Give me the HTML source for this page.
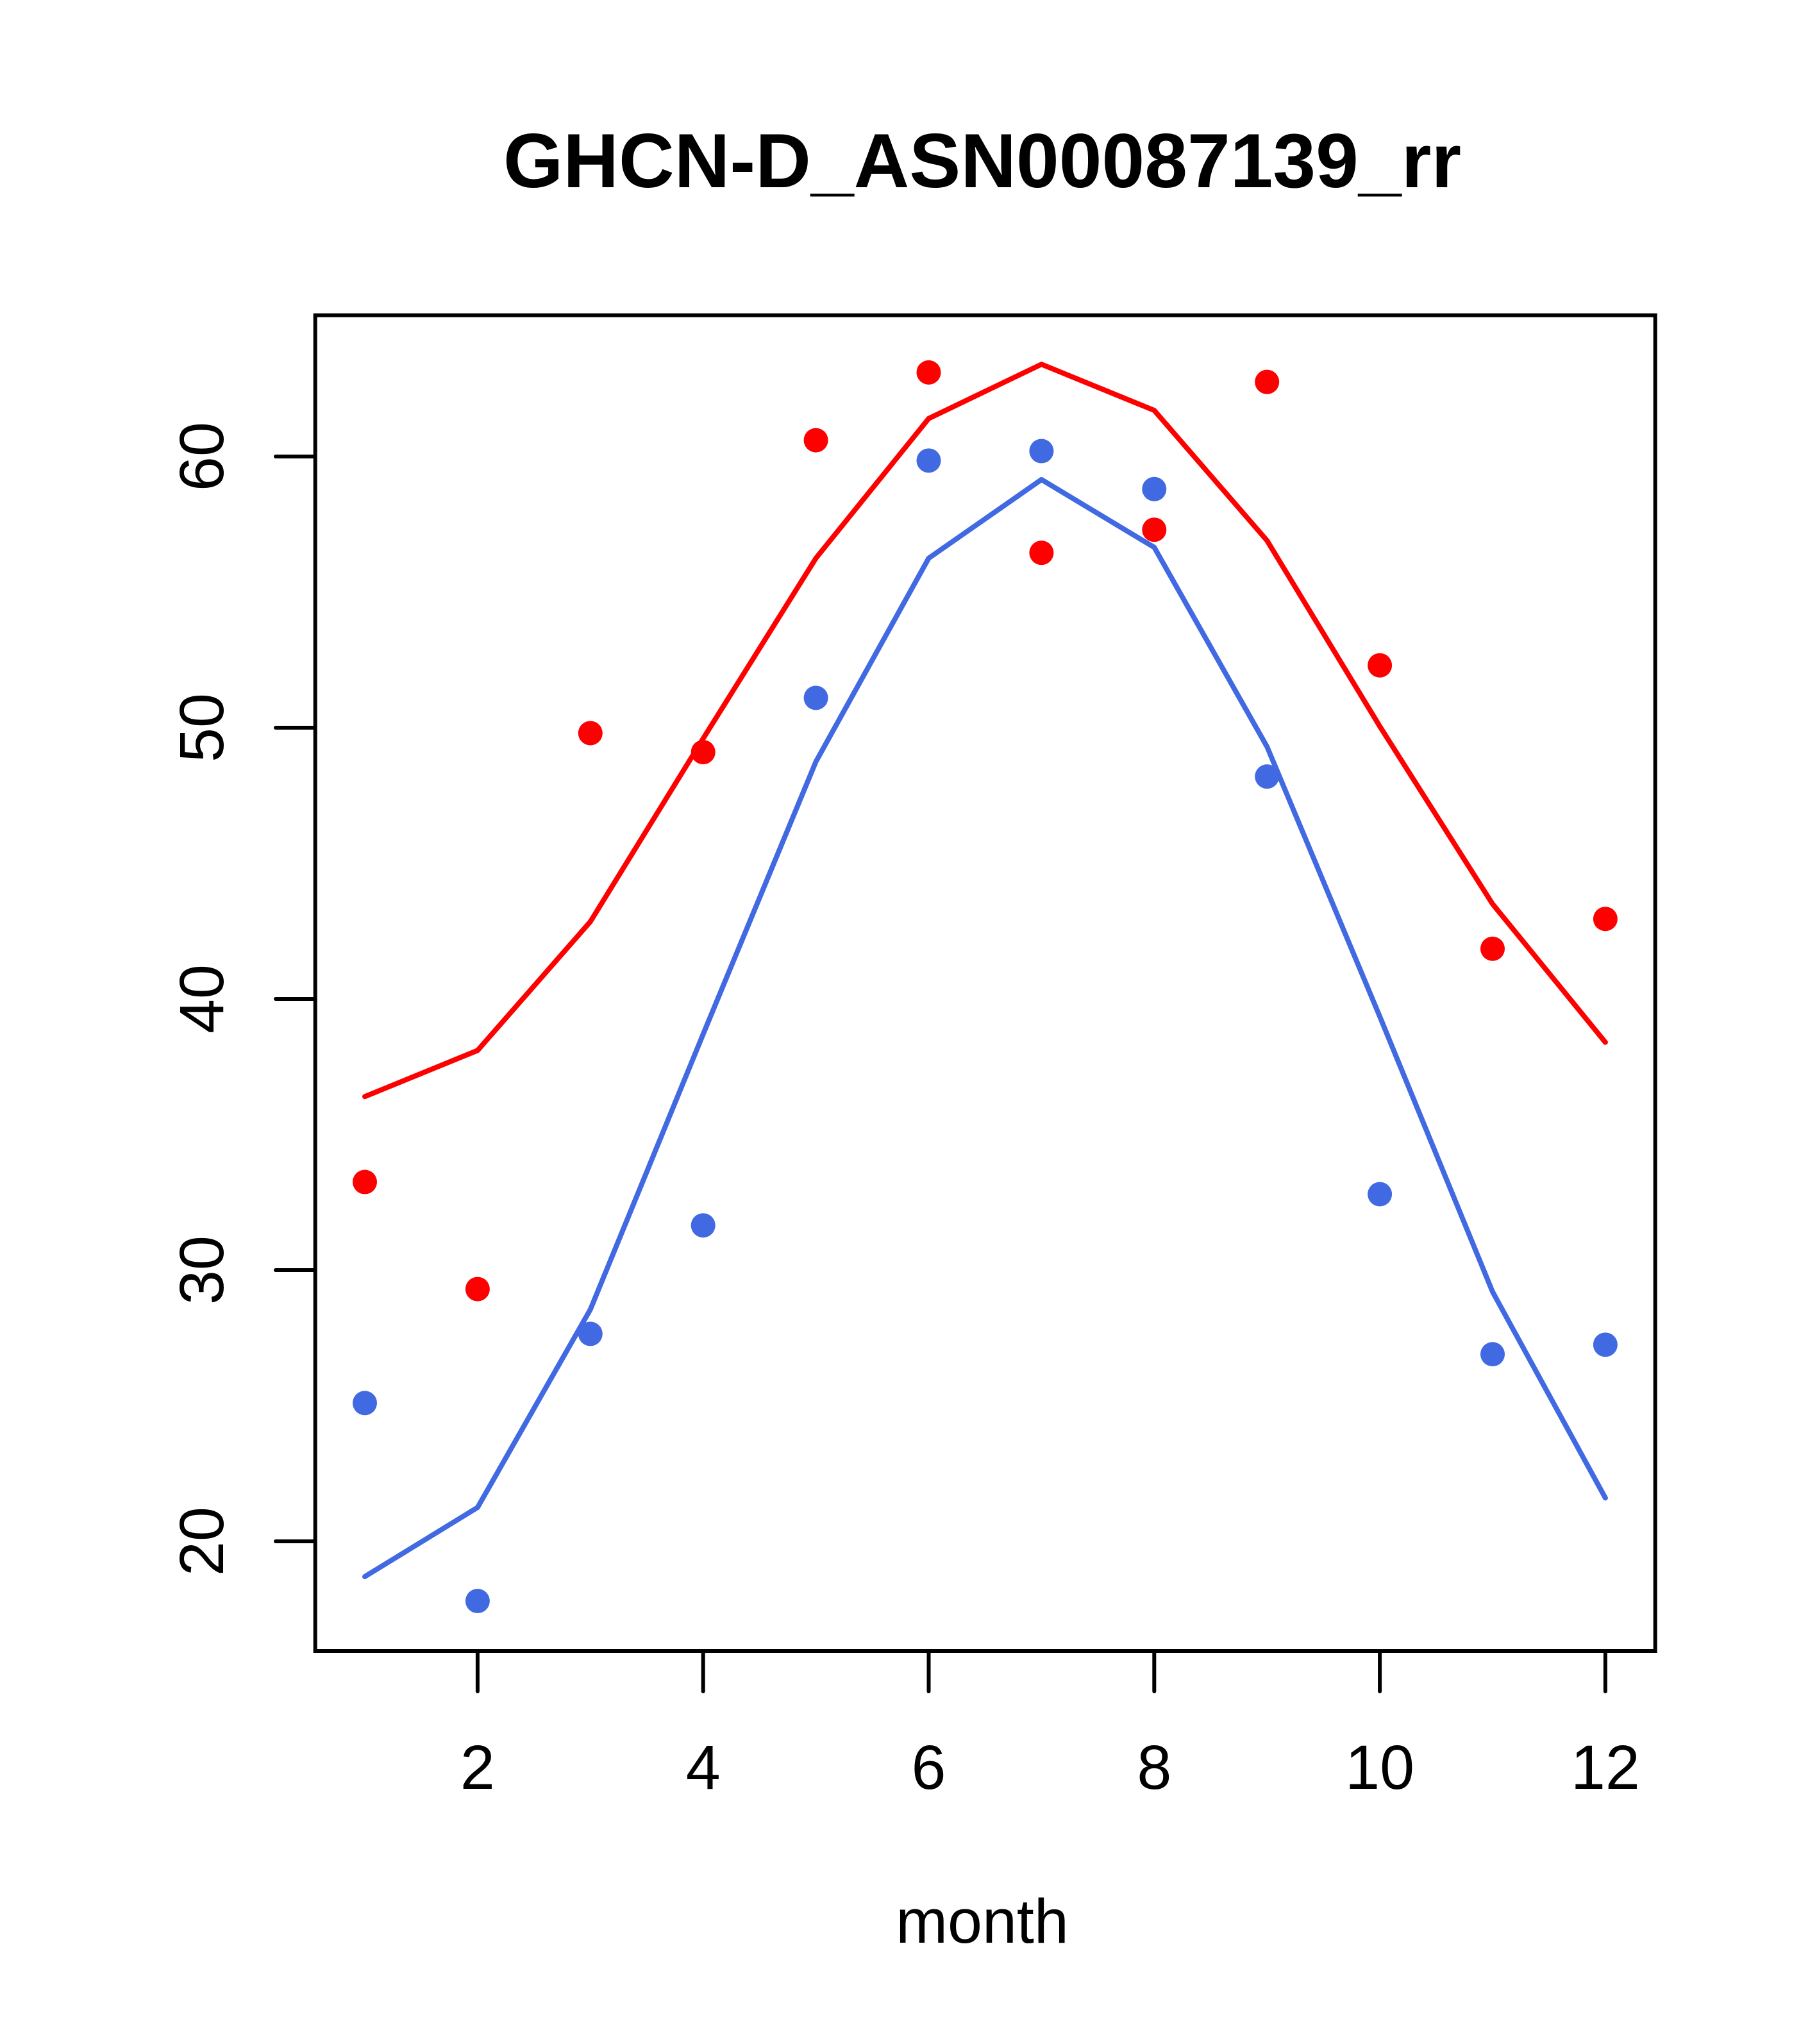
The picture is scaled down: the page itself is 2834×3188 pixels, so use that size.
<!DOCTYPE html>
<html><head><meta charset="utf-8"><style>html,body{margin:0;padding:0;background:#fff}svg{display:block}</style></head>
<body>
<svg id="chart" width="2834" height="3188" viewBox="0 0 2834 3188" xmlns="http://www.w3.org/2000/svg" font-family="Liberation Sans, sans-serif">
<rect width="2834" height="3188" fill="#fff"/>
<text x="1532" y="292" font-size="120" font-weight="bold" text-anchor="middle">GHCN-D_ASN00087139_rr</text>
<text x="1532" y="3030" font-size="97" text-anchor="middle">month</text>
<g id="marks"></g>
<rect x="491.7" y="491.7" width="2090" height="2083.3" fill="none" stroke="#000" stroke-width="6"/>
</svg>
<script>
const months = [1,2,3,4,5,6,7,8,9,10,11,12];
const redLine = [36.4,38.1,42.85,49.6,56.25,61.4,63.4,61.7,56.9,50.05,43.5,38.4];
const redPoints = [33.25,29.3,49.8,49.1,60.6,63.1,56.45,57.3,62.75,52.3,41.85,42.95];
const blueLine = [18.7,21.25,28.55,38.7,48.75,56.25,59.15,56.65,49.3,39.35,29.2,21.6];
const bluePoints = [25.1,17.8,27.65,31.65,51.1,59.85,60.2,58.8,48.2,32.8,26.9,27.25];
const xTicks = [2,4,6,8,10,12];
const yTicks = [20,30,40,50,60];

const NS = "http://www.w3.org/2000/svg";
const g = document.getElementById('marks');
function X(v){ return 569 + (v-1)*175.9; }
function Y(v){ return 712 + (60-v)*42.3; }
function mk(tag, attrs){ const e=document.createElementNS(NS,tag); for(const k in attrs) e.setAttribute(k,attrs[k]); g.appendChild(e); return e; }

xTicks.forEach(t=>{
  const l = mk('line',{x1:X(t),x2:X(t),y1:2575,y2:2638,stroke:'#000','stroke-width':6,'stroke-linecap':'round'});
  
  
  const tx = mk('text',{x:X(t),y:2790,'font-size':97,'text-anchor':'middle'});
  tx.textContent = t;
  
  
});
yTicks.forEach(t=>{
  const l = mk('line',{x1:430,x2:491.7,y1:Y(t),y2:Y(t),stroke:'#000','stroke-width':6,'stroke-linecap':'round'});
  
  
  const tx = mk('text',{x:348,y:Y(t),'font-size':97,'text-anchor':'middle',transform:`rotate(-90 348 ${Y(t)})`});
  tx.textContent = t;
  
  
});
function line(vals, color, name){
  const p = mk('polyline',{points:vals.map((v,i)=>X(months[i])+','+Y(v)).join(' '),fill:'none',stroke:color,'stroke-width':8,'stroke-linejoin':'round','stroke-linecap':'round'});
  
  
}
function pts(vals, color, name){
  vals.forEach((v,i)=>{
    const c = mk('circle',{cx:X(months[i]),cy:Y(v),r:19,fill:color});
    
    
  });
}
line(redLine,'#ff0000','red-line');
line(blueLine,'#4169e1','blue-line');
pts(redPoints,'#ff0000','red-point');
pts(bluePoints,'#4169e1','blue-point');
</script>
</body></html>
